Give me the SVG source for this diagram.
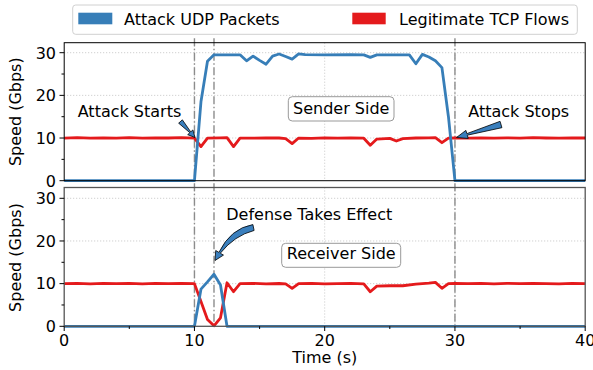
<svg xmlns="http://www.w3.org/2000/svg" width="593" height="370" viewBox="0 0 593 370">
<style>
text{font-family:"DejaVu Sans",sans-serif;font-size:16px;fill:#000}
.grid{stroke:#b8b8b8;stroke-width:0.8;stroke-dasharray:1 2;fill:none}
.dd{stroke:#8c8c8c;stroke-width:1.4;stroke-dasharray:8 2.5 1.5 2.5;fill:none}
.blue{stroke:#377eb8;stroke-width:2.8;fill:none;stroke-linejoin:round}
.red{stroke:#e41a1c;stroke-width:2.8;fill:none;stroke-linejoin:round}
.tick{stroke:#000;stroke-width:1}
.arrow{fill:#3a7fbd;stroke:#000;stroke-width:0.8;stroke-linejoin:miter}
.box{fill:#fff;stroke:#999;stroke-width:1}
</style>
<rect width="593" height="370" fill="#fff"/>

<!-- legend -->
<g id="legend">
<rect x="72.7" y="5" width="504.6" height="29.3" rx="3" fill="#fff" stroke="#d0d0d0" stroke-width="1"/>
<rect x="78.3" y="12.7" width="34" height="11.6" fill="#377eb8"/>
<text x="124" y="24.7">Attack UDP Packets</text>
<rect x="352.3" y="12.7" width="33.4" height="11.6" fill="#e41a1c"/>
<text x="399" y="24.7">Legitimate TCP Flows</text>
</g>

<!-- grids -->
<g id="grid">
<path class="grid" d="M64.2,138.03H585.2M64.2,95.37H585.2M64.2,52.7H585.2M194.45,42.7V180.7M324.7,42.7V180.7M454.95,42.7V180.7"/>
<path class="grid" d="M64.2,283.63H585.2M64.2,240.97H585.2M64.2,198.3H585.2M194.45,187.5V326.3M324.7,187.5V326.3M454.95,187.5V326.3"/>
</g>

<!-- event lines -->
<g id="connectors">
<path class="dd" d="M194.45,38.3V326.3M213.99,38.3V326.3M454.95,38.3V326.3"/>
</g>

<!-- data top -->
<g id="sender-data">
<polyline class="red" points="64.2,138.03 77.2,137.6 90.25,138.2 103.3,137.8 116.3,138.1 129.3,137.7 142.4,138.2 155.4,137.8 168.4,138.0 181.4,137.7 194.45,138.03 200.96,146.56 207.48,138.03 220.5,137.8 227.01,137.6 233.53,146.56 240.04,138.03 253.06,138.2 266.09,137.8 279.11,138.0 285.63,138.6 292.14,143.58 298.65,138.03 311.68,138.3 324.7,137.8 337.73,138.1 350.75,137.8 363.78,138.2 370.29,145.3 376.8,139.1 389.83,138.4 396.34,141.02 402.85,138.6 415.88,138.0 428.9,137.8 435.41,137.6 441.93,142.72 448.44,138.03 454.95,137.8 468,138.1 481,137.8 494,138.2 507,137.8 520,138.1 533,137.7 546,138.0 559,138.2 572,137.8 585.2,138.0"/>
<polyline class="blue" points="64.2,180.7 194.45,180.7 200.96,101.76 207.48,61.22 213.99,54.83 240.04,54.83 246.55,60.8 253.06,56.1 259.58,60.37 266.09,64.21 272.6,56.1 279.11,53.97 285.63,56.53 292.14,59.09 298.65,53.97 305.16,54.6 324.7,54.83 350.75,54.6 363.78,54.83 370.29,57.38 376.8,54.83 409.36,54.83 415.88,63.79 422.39,54.4 428.9,56.96 435.41,60.8 441.93,67.62 448.44,116.7 454.95,180.7 585.2,180.7"/>
</g>

<!-- data bottom -->
<g id="receiver-data">
<polyline class="red" points="64.2,283.63 77.2,283.3 90.25,283.8 103.3,283.4 116.3,283.7 129.3,283.3 142.4,283.8 155.4,283.4 168.4,283.6 181.4,283.3 194.45,283.63 200.96,301.55 207.48,319.47 213.99,325.87 220.5,317.77 227.01,282.77 233.53,291.74 240.04,283.63 253.06,283.4 266.09,283.8 279.11,283.5 285.63,283.9 292.14,288.32 298.65,283.63 311.68,283.4 324.7,283.9 337.73,283.6 350.75,283.4 363.78,283.8 370.29,291.74 376.8,286.19 389.83,285.76 402.85,285.76 415.88,284.2 428.9,283.2 435.41,282.35 441.93,288.32 448.44,283.63 454.95,283.4 468,283.7 481,283.3 494,283.8 507,283.4 520,283.7 533,283.3 546,283.6 559,283.8 572,283.4 585.2,283.63"/>
<polyline class="blue" points="64.2,326.3 194.45,326.3 200.96,289.18 207.48,281.9 213.99,274.24 220.5,284.91 227.01,326.3 585.2,326.3"/>
</g>

<!-- axes frames and ticks -->
<g id="axes-top">
<rect x="64.2" y="42.7" width="521" height="138" fill="none" stroke="#000" stroke-width="1"/>
<path class="tick" d="M59.5,180.7H64.2M59.5,138.03H64.2M59.5,95.37H64.2M59.5,52.7H64.2M61.5,159.37H64.2M61.5,116.7H64.2M61.5,74.03H64.2"/>
<text x="56" y="186.5" text-anchor="end">0</text>
<text x="56" y="143.8" text-anchor="end">10</text>
<text x="56" y="101.2" text-anchor="end">20</text>
<text x="56" y="58.5" text-anchor="end">30</text>
<text transform="translate(20.5,111.7) rotate(-90)" text-anchor="middle">Speed (Gbps)</text>
</g>

<g id="axes-bottom">
<rect x="64.2" y="187.5" width="521" height="138.8" fill="none" stroke="#555" stroke-width="1.3"/>
<path class="tick" d="M59.5,326.3H64.2M59.5,283.63H64.2M59.5,240.97H64.2M59.5,198.3H64.2M61.5,304.97H64.2M61.5,262.3H64.2M61.5,219.63H64.2"/>
<path class="tick" d="M64.2,326.3V331M194.45,326.3V331M324.7,326.3V331M454.95,326.3V331M585.2,326.3V331M129.3,326.3V329M259.6,326.3V329M389.8,326.3V329M520.1,326.3V329"/>
<text x="56" y="332.1" text-anchor="end">0</text>
<text x="56" y="289.4" text-anchor="end">10</text>
<text x="56" y="246.8" text-anchor="end">20</text>
<text x="56" y="204.1" text-anchor="end">30</text>
<text transform="translate(20.5,257.5) rotate(-90)" text-anchor="middle">Speed (Gbps)</text>
<text x="64.2" y="345.7" text-anchor="middle">0</text>
<text x="194.45" y="345.7" text-anchor="middle">10</text>
<text x="324.7" y="345.7" text-anchor="middle">20</text>
<text x="454.95" y="345.7" text-anchor="middle">30</text>
<text x="585.2" y="345.7" text-anchor="middle">40</text>
<text x="324.7" y="363.4" text-anchor="middle">Time (s)</text>
</g>

<!-- annotations -->
<g id="attack-starts">
<text x="77.7" y="116.7">Attack Starts</text>
<path class="arrow" d="M178.65,123.18 L189.86,132.7 L187.7,134.65 L195,137.5 L192.9,129.95 L190.74,131.9 L182.35,119.82 Z"/>
</g>
<g id="attack-stops">
<text x="468.3" y="117.3">Attack Stops</text>
<path class="arrow" d="M500.07,121.33 L466.84,133.65 L465.88,130.39 L456.5,137.5 L468.24,138.45 L467.28,135.19 L501.93,127.67 Z"/>
</g>
<g id="defense">
<text x="226.3" y="220">Defense Takes Effect</text>
<path class="arrow" d="M252.89,224.56 Q230.5,228.5 218.91,252.39 L215.73,250.5 L215,260.5 L223.47,255.1 L220.29,253.21 Q234.5,235.5 254.12,230.44 Z"/>
</g>
<g id="sender-side">
<rect class="box" x="288.3" y="96.7" width="105.7" height="24.3" rx="4"/>
<text x="341.2" y="114" text-anchor="middle">Sender Side</text>
</g>
<g id="receiver-side">
<rect class="box" x="281.7" y="243.3" width="119" height="24" rx="4"/>
<text x="341.2" y="259.3" text-anchor="middle">Receiver Side</text>
</g>
</svg>
